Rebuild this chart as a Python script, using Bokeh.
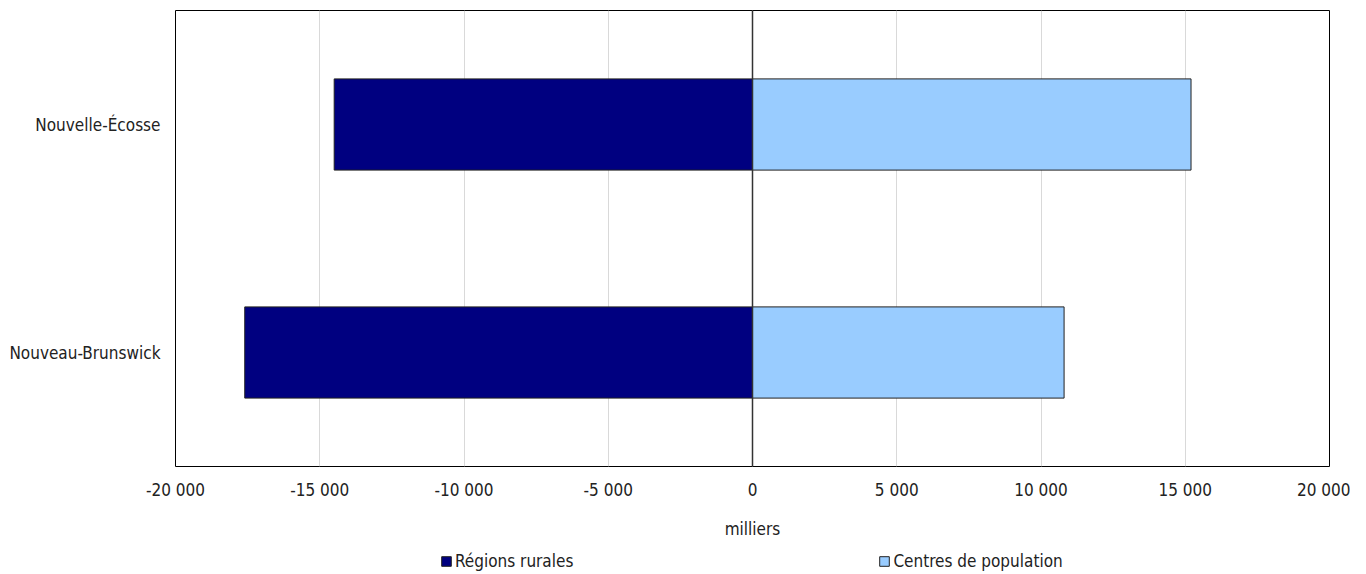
from bokeh.plotting import figure
from bokeh.layouts import column
from bokeh.models import FixedTicker, Span, Legend, LegendItem, ColumnDataSource
from bokeh.embed import file_html
from bokeh.resources import INLINE

provinces = ["Nouveau-Brunswick", "Nouvelle-Écosse"]
rural = [-17600, -14500]
centres = [10800, 15200]
x_ticks = [-20000, -15000, -10000, -5000, 0, 5000, 10000, 15000, 20000]
x_tick_labels = ["-20 000", "-15 000", "-10 000", "-5 000", "0", "5 000", "10 000", "15 000", "20 000"]
series_names = ["Régions rurales", "Centres de population"]
colors = ["#000080", "#99CCFF"]
x_label = "milliers"

FONT = "DejaVu Sans Condensed"

src = ColumnDataSource(dict(prov=provinces, rural=rural, centres=centres))

p = figure(width=1350, height=544, y_range=provinces, x_range=(-20000, 20000),
           output_backend="svg", toolbar_location=None,
           min_border_left=175, min_border_right=21, min_border_top=10, min_border_bottom=78)

r1 = p.hbar(y="prov", left=0, right="rural", height=0.4, source=src,
            fill_color=colors[0], line_color="#222222", line_width=1)
r2 = p.hbar(y="prov", left=0, right="centres", height=0.4, source=src,
            fill_color=colors[1], line_color="#222222", line_width=1)

p.add_layout(Span(location=0, dimension="height", line_color="#333333", line_width=1.5))

p.xaxis.ticker = FixedTicker(ticks=x_ticks)
p.xaxis.major_label_overrides = {t: l for t, l in zip(x_ticks, x_tick_labels)}
p.xaxis.axis_label = x_label
for ax in (p.xaxis, p.yaxis):
    ax.axis_line_color = None
    ax.major_tick_line_color = None
    ax.minor_tick_line_color = None
    ax.major_label_text_font = FONT
    ax.major_label_text_font_size = "17px"
    ax.major_label_text_color = "#222222"
p.xaxis.major_label_standoff = 7
p.yaxis.major_label_standoff = 9
p.xaxis.axis_label_text_font = FONT
p.xaxis.axis_label_text_font_size = "17px"
p.xaxis.axis_label_text_font_style = "normal"
p.xaxis.axis_label_text_color = "#222222"
p.xaxis.axis_label_standoff = 16

p.xgrid.grid_line_color = "#d9d9d9"
p.ygrid.grid_line_color = None
p.outline_line_color = "black"
p.outline_line_width = 1

# legend strip below the chart; its renderers are hidden, only the legend shows
lf = figure(width=1350, height=28, x_range=(-20000, 20000), y_range=provinces,
            output_backend="svg", toolbar_location=None,
            x_axis_type=None, y_axis_type=None,
            min_border_left=0, min_border_right=0, min_border_top=0, min_border_bottom=0)
lf.outline_line_color = None
lf.xgrid.grid_line_color = None
lf.ygrid.grid_line_color = None
l1 = lf.hbar(y="prov", left=0, right="rural", height=0.4, source=src,
             fill_color=colors[0], line_color="#222222", line_width=1)
l2 = lf.hbar(y="prov", left=0, right="centres", height=0.4, source=src,
             fill_color=colors[1], line_color="#222222", line_width=1)
l1.visible = False
l2.visible = False

legend = Legend(items=[LegendItem(label=series_names[0], renderers=[l1]),
                       LegendItem(label=series_names[1], renderers=[l2])],
                orientation="horizontal", location=(265, 1),
                label_text_font=FONT, label_text_font_size="17px",
                label_text_color="#222222",
                glyph_width=12, glyph_height=12, label_standoff=3,
                spacing=305, border_line_color=None, background_fill_alpha=0,
                padding=0, margin=0, label_height=16, click_policy="none")
lf.add_layout(legend, "center")

layout = column(p, lf, spacing=0)
open("out.html", "w").write(file_html(layout, INLINE))
